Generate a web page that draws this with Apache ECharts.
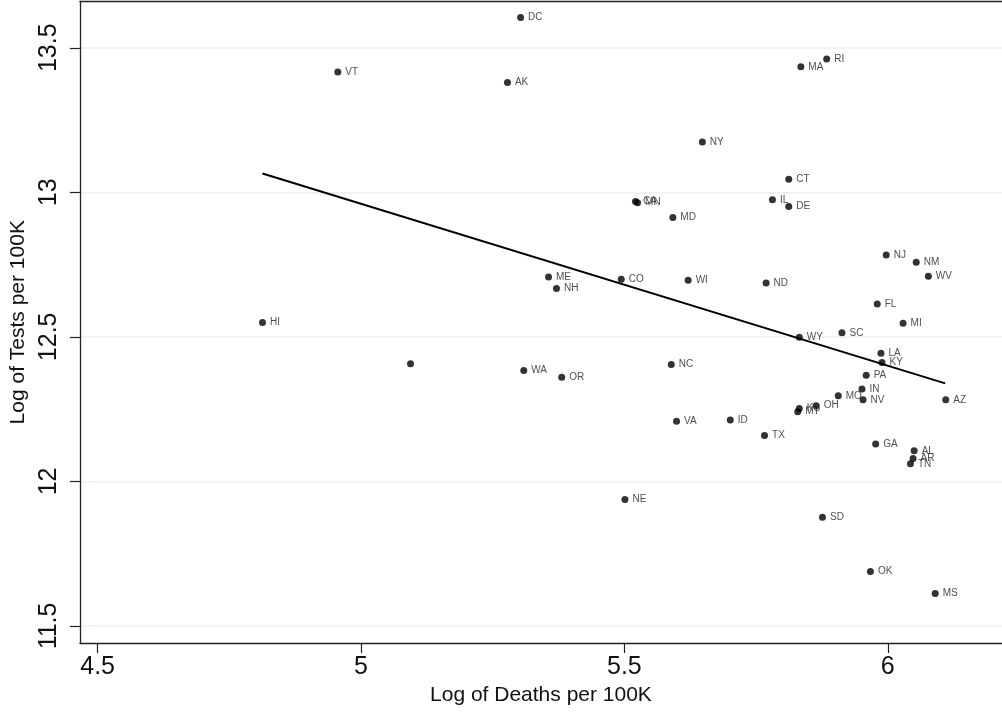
<!DOCTYPE html>
<html>
<head>
<meta charset="utf-8">
<script src="https://cdn.jsdelivr.net/npm/echarts@6/dist/echarts.min.js"></script>
<style>
html,body{margin:0;padding:0;background:#fff;}
#chart{width:1002px;height:712px;}
</style>
</head>
<body>
<div id="chart"></div>
<script>
// ---- data ----
var states = ["DC","VT","AK","RI","MA","NY","CT","CA","MN","IL","DE","MD","NJ","NM","WV","ME","CO","WI","ND","NH","FL","MI","HI","SC","WY","LA","KY","","NC","WA","OR","PA","IN","MO","NV","AZ","OH","KS","MT","ID","VA","TX","GA","AL","AR","TN","NE","SD","OK","MS"];
var logDeaths = [5.303,4.956,5.278,5.884,5.835,5.648,5.812,5.521,5.525,5.781,5.812,5.592,5.997,6.054,6.077,5.356,5.494,5.621,5.769,5.371,5.980,6.029,4.813,5.913,5.832,5.987,5.989,5.094,5.589,5.309,5.381,5.959,5.951,5.906,5.953,6.110,5.864,5.832,5.829,5.701,5.599,5.766,5.977,6.050,6.048,6.043,5.501,5.876,5.967,6.090];
var logTests = [13.605,13.416,13.380,13.461,13.434,13.174,13.045,12.968,12.964,12.974,12.951,12.913,12.783,12.758,12.710,12.707,12.699,12.696,12.686,12.667,12.614,12.547,12.550,12.514,12.499,12.443,12.411,12.407,12.404,12.384,12.360,12.367,12.320,12.296,12.282,12.282,12.262,12.252,12.241,12.212,12.208,12.159,12.129,12.106,12.079,12.061,11.937,11.876,11.688,11.612];
var fitX = [4.813, 6.109];
var fitY = [13.065, 12.339];
var xTicks = [4.5, 5, 5.5, 6];
var yTicks = [11.5, 12, 12.5, 13, 13.5];

var FONT = "'Liberation Sans', Arial, sans-serif";
var points = states.map(function (s, i) { return [logDeaths[i], logTests[i], s]; });
var fitLine = fitX.map(function (x, i) { return [x, fitY[i]]; });

var chart = echarts.init(document.getElementById('chart'), null, {renderer: 'canvas'});
chart.setOption({
  animation: false,
  backgroundColor: '#ffffff',
  grid: {left: 79, right: 0, top: 1.5, bottom: 69},
  xAxis: [{
    type: 'value', min: 4.4664, max: 6.2168,
    name: 'Log of Deaths per 100K', nameLocation: 'middle', nameGap: 42,
    nameTextStyle: {fontFamily: FONT, fontSize: 21, color: '#111'},
    axisLine: {show: true, onZero: false, lineStyle: {color: '#222', width: 1.3}},
    axisTick: {show: true, length: 10, customValues: xTicks, lineStyle: {color: '#222', width: 1.2}},
    axisLabel: {customValues: xTicks, fontFamily: FONT, fontSize: 25, color: '#111', margin: 12,
      formatter: function (v) { return String(v); }},
    splitLine: {show: false}
  }, {
    type: 'value', position: 'top', min: 4.4664, max: 6.2168,
    axisLine: {show: true, onZero: false, lineStyle: {color: '#222', width: 1.3}},
    axisTick: {show: false}, axisLabel: {show: false}, splitLine: {show: false}
  }],
  yAxis: {
    type: 'value', min: 11.441, max: 13.66,
    name: 'Log of Tests per 100K', nameLocation: 'middle', nameGap: 38,
    nameTextStyle: {fontFamily: FONT, fontSize: 21, color: '#111'},
    axisLine: {show: true, onZero: false, lineStyle: {color: '#222', width: 1.3}},
    axisTick: {show: true, length: 10, customValues: yTicks, lineStyle: {color: '#222', width: 1.2}},
    axisLabel: {customValues: yTicks, rotate: 90, fontFamily: FONT, fontSize: 25, color: '#111', margin: 18,
      formatter: function (v) { return String(v); }},
    splitLine: {show: true, lineStyle: {color: '#e8f0f2', width: 1.5}}
  },
  series: [{
    type: 'scatter',
    data: points,
    symbol: 'circle',
    symbolSize: 7,
    itemStyle: {color: '#000'},
    label: {
      show: true, position: 'right', distance: 4,
      fontFamily: FONT, fontSize: 10, color: '#222',
      formatter: function (p) { return p.data[2]; }
    },
    z: 3
  }, {
    type: 'line',
    data: fitLine,
    showSymbol: false,
    symbol: 'none',
    lineStyle: {color: '#000', width: 2},
    z: 2
  }]
});
</script>
</body>
</html>
